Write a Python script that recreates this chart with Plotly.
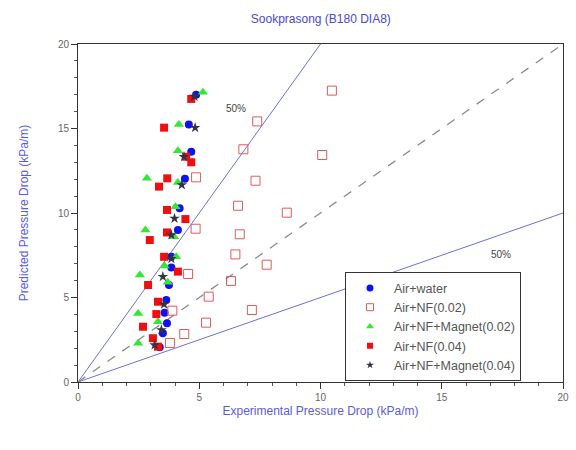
import plotly.graph_objects as go

# Experimental vs predicted pressure drop (kPa/m)
water_x = [4.87, 4.57, 4.67, 4.41, 4.19, 4.12, 3.85, 3.85, 3.75, 3.64, 3.57, 3.67, 3.50, 3.37]
water_y = [17.0, 15.24, 13.63, 12.03, 10.28, 8.99, 7.41, 6.78, 5.74, 4.85, 4.10, 3.47, 2.88, 2.05]

nf02_x = [10.47, 7.39, 6.82, 10.07, 4.87, 7.32, 6.60, 8.61, 4.85, 6.67, 6.49, 7.78,
          4.54, 6.31, 5.39, 7.17, 5.28, 4.38, 3.79, 3.89]
nf02_y = [17.24, 15.42, 13.77, 13.43, 12.11, 11.91, 10.43, 10.02, 9.07, 8.74, 7.55, 6.94,
          6.39, 5.98, 5.05, 4.26, 3.51, 2.84, 2.31, 4.22]

nfm02_x = [5.15, 4.16, 4.12, 2.84, 4.12, 4.02, 2.78, 3.96, 4.05, 3.57, 2.55, 3.70, 2.48, 3.30, 2.48]
nfm02_y = [17.14, 15.24, 13.69, 12.05, 11.81, 10.37, 8.99, 8.60, 7.41, 6.86, 6.33, 5.90, 4.06, 3.57, 2.29]

nf04_x = [4.67, 3.55, 4.46, 4.67, 3.68, 3.34, 3.67, 4.43, 3.67, 2.96, 3.55, 4.12,
          2.89, 3.30, 3.23, 2.68, 3.09, 3.30]
nf04_y = [16.75, 15.05, 13.33, 13.0, 12.05, 11.56, 10.18, 9.64, 8.85, 8.40, 7.41, 6.53,
          5.74, 4.75, 4.02, 3.27, 2.59, 2.09]

nfm04_x = [4.80, 4.83, 4.37, 4.28, 3.98, 3.85, 3.85, 3.50, 3.55, 3.44, 3.16]
nfm04_y = [16.9, 15.05, 13.33, 11.66, 9.68, 8.70, 7.30, 6.23, 4.60, 3.08, 2.19]

# Reference lines: +50 %, -50 % and perfect agreement
band_upper_x = [0, 10]
band_upper_y = [0, 20]
band_lower_x = [0, 20]
band_lower_y = [0, 10]
diag_x = [0, 20]
diag_y = [0, 20]

FONT = "Liberation Sans, Arial"

series = [
    ("Air+water", water_x, water_y,
     dict(symbol="circle", size=8, color="#1010f0"), 7),
    ("Air+NF(0.02)", nf02_x, nf02_y,
     dict(symbol="square-open", size=9, color="#e05a5a", line=dict(width=1)), 7),
    ("Air+NF+Magnet(0.02)", nfm02_x, nfm02_y,
     dict(symbol="triangle-up", size=9, color="#33e833"), 7),
    ("Air+NF(0.04)", nf04_x, nf04_y,
     dict(symbol="square", size=8, color="#ee1010"), 6),
    ("Air+NF+Magnet(0.04)", nfm04_x, nfm04_y,
     dict(symbol="star", size=8, color="#333344"), 6),
]

fig = go.Figure()

line_col = "#6f6fd8"
fig.add_trace(go.Scatter(x=band_upper_x, y=band_upper_y, mode="lines",
                         line=dict(color=line_col, width=1), showlegend=False, hoverinfo="skip"))
fig.add_trace(go.Scatter(x=band_lower_x, y=band_lower_y, mode="lines",
                         line=dict(color=line_col, width=1), showlegend=False, hoverinfo="skip"))
fig.add_trace(go.Scatter(x=diag_x, y=diag_y, mode="lines",
                         line=dict(color="#8a8a8a", width=1.3, dash="dash"),
                         showlegend=False, hoverinfo="skip"))

for name, xs, ys, mk, _ in series:
    fig.add_trace(go.Scatter(x=xs, y=ys, mode="markers", name=name, marker=mk,
                             legendgroup=name, showlegend=False))

# Legend entries with smaller symbols than the plotted markers
for name, _, _, mk, leg_size in series:
    leg_mk = dict(mk)
    leg_mk["size"] = leg_size
    fig.add_trace(go.Scatter(x=[None], y=[None], mode="markers", name=name,
                             marker=leg_mk, legendgroup=name, showlegend=True))

axis_common = dict(
    range=[0, 20], dtick=5, showgrid=False, zeroline=False,
    showline=True, linecolor="#333333", linewidth=1, mirror=True,
    ticks="outside", ticklen=6, tickcolor="#333333",
    minor=dict(dtick=1, ticks="outside", ticklen=3, tickcolor="#555555"),
    tickfont=dict(family=FONT, size=10, color="#666666"),
    automargin=False,
)

fig.update_layout(
    width=576, height=450,
    margin=dict(l=78, r=13, t=44, b=68),
    paper_bgcolor="white", plot_bgcolor="white",
    title=dict(text="Sookprasong (B180 DIA8)", x=0.557, xanchor="center", y=0.967,
               font=dict(family=FONT, size=12, color="#4848d8")),
    xaxis=dict(axis_common,
               title=dict(text="Experimental Pressure Drop (kPa/m)", standoff=4,
                          font=dict(family=FONT, size=12, color="#5a5ae0"))),
    yaxis=dict(axis_common,
               title=dict(text="Predicted Pressure Drop (kPa/m)", standoff=26,
                          font=dict(family=FONT, size=12, color="#5a5ae0"))),
    legend=dict(x=0.5505, y=0.3245, xanchor="left", yanchor="top",
                bgcolor="white", bordercolor="#333333", borderwidth=1,
                font=dict(family=FONT, size=12.5, color="#555555"),
                tracegroupgap=0, itemwidth=38),
    showlegend=True,
)

fig.add_annotation(x=6.5, y=16.2, text="50%", showarrow=False,
                   font=dict(family=FONT, size=10, color="#444444"))
fig.add_annotation(x=17.45, y=7.57, text="50%", showarrow=False,
                   font=dict(family=FONT, size=10, color="#444444"))

fig.write_html("out.html")
